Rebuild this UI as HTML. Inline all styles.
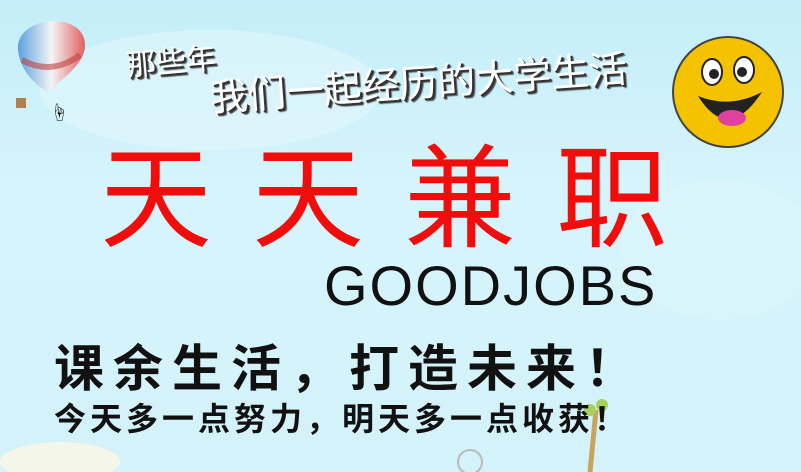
<!DOCTYPE html>
<html><head><meta charset="utf-8"><style>
body{margin:0;width:801px;height:472px;overflow:hidden;position:relative;font-family:"Liberation Sans","Noto Sans CJK SC",sans-serif;
background:linear-gradient(180deg,#c4eef9 0%,#d6f4fb 40%,#d3f2fa 100%);}
.t{position:absolute;white-space:nowrap;line-height:1;}
.sh{color:#fff;text-shadow:2px 2px 0 #333,3px 3px 1px #555;}
</style></head><body>
<svg width="801" height="472" style="position:absolute;left:0;top:0">
<ellipse cx="210" cy="90" rx="170" ry="60" fill="#e2f7fc" opacity="0.6"/>
<ellipse cx="720" cy="250" rx="100" ry="70" fill="#def5fb" opacity="0.5"/>
<ellipse cx="60" cy="462" rx="60" ry="20" fill="#f3f6e8"/>
<path d="M590 472 L596 410" stroke="#c9a45a" stroke-width="5"/>
<circle cx="590" cy="410" r="6" fill="#a8d060"/><circle cx="602" cy="405" r="6" fill="#a8d060"/>
<circle cx="470" cy="462" r="12" fill="none" stroke="#bbb" stroke-width="2"/>
</svg>
<svg width="90" height="120" style="position:absolute;left:10px;top:10px">
<defs><linearGradient id="b" x1="0" x2="1"><stop offset="0" stop-color="#5aa0e0"/><stop offset="0.5" stop-color="#f4f4f4"/><stop offset="1" stop-color="#e06060"/></linearGradient></defs>
<path d="M8 40 C5 5 75 0 75 35 C75 55 50 70 38 82 C25 75 10 60 8 40Z" fill="url(#b)"/>
<path d="M12 50 C30 60 50 60 70 45" stroke="#c04040" stroke-width="6" fill="none" opacity="0.6"/>
<rect x="6" y="88" width="10" height="10" fill="#b08050"/>
</svg>
<div class="t" style="left:50px;top:104px;font-size:18px">☝</div>
<div class="t sh" style="left:126px;top:48px;font-size:30px;transform:rotate(-5deg)">那些年</div>
<div class="t sh" style="left:210px;top:80px;font-size:38px;transform:rotate(-4deg);transform-origin:left">我们一起经历的大学生活</div>
<svg width="120" height="120" style="position:absolute;left:670px;top:34px">
<circle cx="58" cy="58" r="55" fill="#f5c200" stroke="#444" stroke-width="2"/>
<ellipse cx="42" cy="38" rx="10" ry="13" fill="#fff" stroke="#222" stroke-width="2"/><circle cx="44" cy="40" r="5" fill="#222"/>
<ellipse cx="74" cy="36" rx="10" ry="13" fill="#fff" stroke="#222" stroke-width="2"/><circle cx="72" cy="38" r="5" fill="#222"/>
<path d="M28 62 Q58 110 92 58 Q60 75 28 62Z" fill="#222"/>
<ellipse cx="62" cy="84" rx="14" ry="8" fill="#e040a0"/>
</svg>
<div class="t" style="left:100px;top:144px;font-size:112px;color:#f20d0d;letter-spacing:40px">天天兼职</div>
<div class="t" style="left:324px;top:258px;font-size:56px;color:#111;letter-spacing:2px">GOODJOBS</div>
<div class="t" style="left:54px;top:344px;font-size:50px;font-weight:bold;color:#111;letter-spacing:9px">课余生活，打造未来！</div>
<div class="t" style="left:54px;top:403px;font-size:32px;font-weight:bold;color:#111;letter-spacing:4px">今天多一点努力，明天多一点收获！</div>
</body></html>
